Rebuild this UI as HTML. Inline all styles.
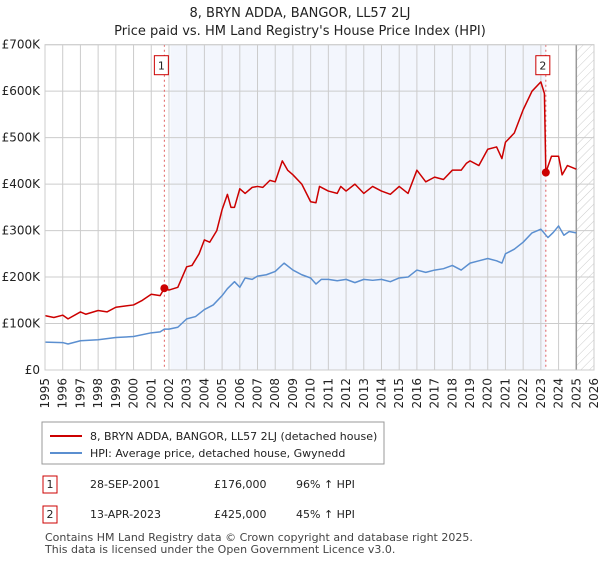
<!DOCTYPE html>
<html><head><meta charset="utf-8"><style>
body{margin:0;background:#fff;font-family:"Liberation Sans","DejaVu Sans",sans-serif;}
svg text{font-family:"DejaVu Sans","Liberation Sans",sans-serif;}
</style></head><body>
<svg width="600" height="560" xmlns="http://www.w3.org/2000/svg">
<defs><pattern id="hatch" width="6" height="6" patternUnits="userSpaceOnUse" patternTransform="rotate(45)"><line x1="0" y1="0" x2="0" y2="6" stroke="#ccc" stroke-width="1"/></pattern></defs>
<text x="300" y="17" text-anchor="middle" font-size="13" fill="#222">8, BRYN ADDA, BANGOR, LL57 2LJ</text>
<text x="300" y="35" text-anchor="middle" font-size="13" fill="#222">Price paid vs. HM Land Registry's House Price Index (HPI)</text>
<g id="plot"></g>
<g id="legend">
<rect x="42" y="422" width="342" height="42" fill="#fff" stroke="#999"/>
<line x1="50" y1="436" x2="82" y2="436" stroke="#cc0000" stroke-width="2"/>
<text x="90" y="440" font-size="11" fill="#222">8, BRYN ADDA, BANGOR, LL57 2LJ (detached house)</text>
<line x1="50" y1="453" x2="82" y2="453" stroke="#5b8fd0" stroke-width="2"/>
<text x="90" y="457" font-size="11" fill="#222">HPI: Average price, detached house, Gwynedd</text>
</g>
<g font-size="11" fill="#222">
<rect x="43" y="476" width="14" height="17" fill="#fff" stroke="#cc0000"/><text x="50" y="488" text-anchor="middle">1</text>
<text x="90" y="488">28-SEP-2001</text><text x="214" y="488">£176,000</text><text x="296" y="488">96% ↑ HPI</text>
<rect x="43" y="506" width="14" height="17" fill="#fff" stroke="#cc0000"/><text x="50" y="518" text-anchor="middle">2</text>
<text x="90" y="518">13-APR-2023</text><text x="214" y="518">£425,000</text><text x="296" y="518">45% ↑ HPI</text>
</g>
<text x="45" y="541" font-size="11" fill="#444">Contains HM Land Registry data © Crown copyright and database right 2025.</text>
<text x="45" y="553" font-size="11" fill="#444">This data is licensed under the Open Government Licence v3.0.</text>
</svg>
<script>
const years=[1995,1996,1997,1998,1999,2000,2001,2002,2003,2004,2005,2006,2007,2008,2009,2010,2011,2012,2013,2014,2015,2016,2017,2018,2019,2020,2021,2022,2023,2024,2025,2026];
const yTicks=[0,100,200,300,400,500,600,700];
const yTickLabels=["£0","£100K","£200K","£300K","£400K","£500K","£600K","£700K"];
const redT=[1995,1995.5,1996,1996.3,1997,1997.3,1998,1998.5,1999,2000,2000.5,2001,2001.5,2001.74,2002,2002.5,2003,2003.3,2003.7,2004,2004.3,2004.7,2005,2005.3,2005.5,2005.7,2006,2006.3,2006.7,2007,2007.3,2007.7,2008,2008.4,2008.7,2009,2009.5,2010,2010.3,2010.5,2011,2011.5,2011.7,2012,2012.5,2013,2013.5,2014,2014.5,2015,2015.5,2016,2016.5,2017,2017.5,2018,2018.5,2018.8,2019,2019.5,2020,2020.5,2020.8,2021,2021.5,2022,2022.5,2023,2023.2,2023.28,2023.6,2024,2024.2,2024.5,2025];
const redV=[117,113,118,110,125,120,128,125,135,140,150,163,160,176,172,178,222,225,250,280,275,300,345,378,350,350,390,380,393,395,393,408,405,450,430,420,400,362,360,395,385,380,395,385,400,380,395,385,378,395,380,430,405,415,410,430,430,445,450,440,475,480,455,490,510,560,600,620,595,425,460,460,420,440,432];
const blueT=[1995,1996,1996.3,1997,1998,1999,2000,2001,2001.5,2001.74,2002,2002.5,2003,2003.5,2004,2004.5,2005,2005.3,2005.7,2006,2006.3,2006.7,2007,2007.5,2008,2008.5,2009,2009.5,2010,2010.3,2010.6,2011,2011.5,2012,2012.5,2013,2013.5,2014,2014.5,2015,2015.5,2016,2016.5,2017,2017.5,2018,2018.5,2019,2019.5,2020,2020.5,2020.8,2021,2021.5,2022,2022.5,2023,2023.4,2023.7,2024,2024.3,2024.6,2025];
const blueV=[60,59,56,63,65,70,72,80,82,88,88,92,110,115,130,140,160,175,190,178,198,195,202,205,212,230,215,205,198,185,195,195,192,195,188,195,193,195,190,198,200,215,210,215,218,225,215,230,235,240,235,230,250,260,275,295,303,285,296,310,290,298,295];
const saleT=[2001.74,2023.28];
const saleV=[176,425];
const saleLabels=["1","2"];
const X0=45,X1=594,Y0=370,Y1=44.7;
const x=t=>X0+(t-1995)*(X1-X0)/31;
const y=v=>Y0-(v/700)*(Y0-Y1);
const NS="http://www.w3.org/2000/svg";
const g=document.getElementById('plot');
function mk(tag,attrs){const e=document.createElementNS(NS,tag);for(const k in attrs)e.setAttribute(k,attrs[k]);g.appendChild(e);return e;}
let r=mk('rect',{x:x(saleT[0])+6,y:Y1,width:x(saleT[1])-x(saleT[0])-6,height:Y0-Y1,fill:'#f3f6fd'});


let h=mk('rect',{x:x(2025),y:Y1,width:X1-x(2025),height:Y0-Y1,fill:'url(#hatch)'});


years.forEach(yr=>{
 let l=mk('line',{x1:x(yr),x2:x(yr),y1:Y1,y2:Y0,stroke:'#ccc','stroke-width':1});
 
 
 let t=mk('text',{x:0,y:0,'font-size':12,fill:'#222','text-anchor':'end',transform:`translate(${x(yr)+4},${Y0+8}) rotate(-90)`});
 t.textContent=yr;
 
 
});
yTicks.forEach((v,i)=>{
 let l=mk('line',{x1:X0,x2:X1,y1:y(v),y2:y(v),stroke:'#ccc','stroke-width':1});
 
 
 let t=mk('text',{x:40,y:y(v)+4,'font-size':12,fill:'#222','text-anchor':'end'});
 t.textContent=yTickLabels[i];
 
 
});
let gl=mk('line',{x1:x(2025),x2:x(2025),y1:Y1,y2:Y0,stroke:'#999','stroke-width':1.5});


saleT.forEach((t,i)=>{
 let l=mk('line',{x1:x(t),x2:x(t),y1:Y1,y2:Y0,stroke:'#e06060','stroke-width':1,'stroke-dasharray':'2,3'});
 
 
});
function line(T,V,c,name){
 let p=mk('polyline',{points:T.map((t,i)=>x(t)+','+y(V[i])).join(' '),fill:'none',stroke:c,'stroke-width':1.5,'stroke-linejoin':'round'});
 
 
}
line(blueT,blueV,'#5b8fd0','hpi-line');
line(redT,redV,'#cc0000','property-price-line');
saleT.forEach((t,i)=>{
 let c=mk('circle',{cx:x(t),cy:y(saleV[i]),r:4,fill:'#cc0000'});
 
 
 let b=mk('rect',{x:x(t)-10,y:Y1+11,width:14,height:19,fill:'#fff',stroke:'#cc0000'});
 
 
 let tx=mk('text',{x:x(t)-3,y:Y1+25,'font-size':11,fill:'#222','text-anchor':'middle'});
 tx.textContent=saleLabels[i];
 
 
});
let ax=mk('rect',{x:X0,y:Y1,width:X1-X0,height:Y0-Y1,fill:'none',stroke:'#ccc'});


</script>
</body></html>
